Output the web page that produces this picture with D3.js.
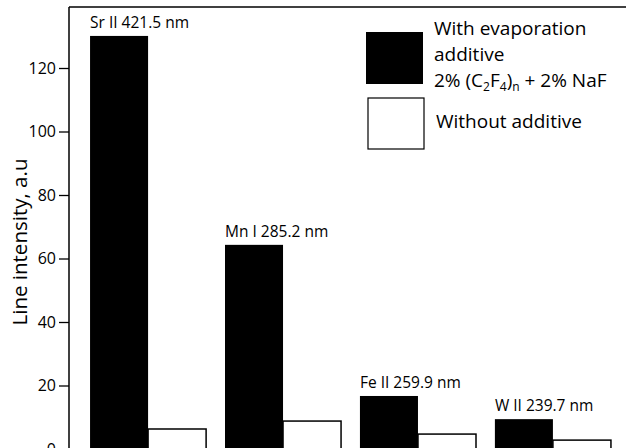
<!DOCTYPE html>
<html>
<head>
<meta charset="utf-8">
<script src="https://cdn.jsdelivr.net/npm/d3@7"></script>
<style>
  body { margin: 0; background: #fff; }
  svg { display: block; font-family: "Open Sans", Lato, sans-serif; }
</style>
</head>
<body>
<div id="d3"></div>
<script>
const lines = ["Sr II 421.5 nm", "Mn I 285.2 nm", "Fe II 259.9 nm", "W II 239.7 nm"];
const withAdditive = [130.1, 64.3, 16.7, 9.4];
const withoutAdditive = [6.3, 8.8, 4.7, 2.8];
const yTicks = [0, 20, 40, 60, 80, 100, 120];

const width = 626;
const height = 448;
const margin = { top: 7, left: 69, right: 0, bottom: 0 };

const svg = d3
  .select("#d3")
  .append("svg")
  .attr("width", width)
  .attr("height", height);

const x = d3.scaleBand().domain(lines).range([69, 632]).paddingInner(0.14).paddingOuter(0.156);
const xSub = d3.scaleBand().domain(["with", "without"]).range([0, x.bandwidth()]);
const y = d3.scaleLinear().domain([0, 120]).range([449, 68]);

// frame: left axis, top line, baseline
svg
  .append("g")
  .attr("transform", `translate(${margin.left},0)`)
  .call(d3.axisLeft(y).tickValues(yTicks).tickSize(10).tickPadding(3))
  .call((g) => g.select(".domain").remove())
  .call((g) => g.selectAll("text").style("font-size", "16px").style("font-family", "'Open Sans', sans-serif").attr("fill", "#000"))
  .call((g) => g.selectAll("line").attr("stroke", "#000").attr("stroke-width", 1.3));

svg.append("line").attr("x1", margin.left).attr("x2", margin.left).attr("y1", margin.top).attr("y2", y(0))
  .attr("stroke", "#000").attr("stroke-width", 1.5);
svg.append("line").attr("x1", margin.left).attr("x2", width).attr("y1", margin.top).attr("y2", margin.top)
  .attr("stroke", "#000").attr("stroke-width", 1.5);

svg
  .append("text")
  .attr("transform", `translate(27, 242) rotate(-90)`)
  .attr("text-anchor", "middle")
  .style("font-size", "20.5px")
  .text("Line intensity, a.u");

const groups = svg
  .selectAll("g.grp")
  .data(lines)
  .enter()
  .append("g")
  .attr("class", "grp")
  .attr("transform", (d) => `translate(${x(d)},0)`);

groups
  .append("rect")
  .attr("x", xSub("with"))
  .attr("width", xSub.bandwidth())
  .attr("y", (d, i) => y(withAdditive[i]))
  .attr("height", (d, i) => y(0) - y(withAdditive[i]))
  .attr("fill", "#000");

groups
  .append("rect")
  .attr("x", xSub("without"))
  .attr("width", xSub.bandwidth())
  .attr("y", (d, i) => y(withoutAdditive[i]))
  .attr("height", (d, i) => y(0) - y(withoutAdditive[i]))
  .attr("fill", "#fff")
  .attr("stroke", "#000")
  .attr("stroke-width", 1.5);

groups
  .append("text")
  .attr("x", 0)
  .attr("y", (d, i) => y(withAdditive[i]) - 8)
  .style("font-size", "15.5px")
  .text((d) => d);

svg.append("line").attr("x1", margin.left).attr("x2", width).attr("y1", y(0)).attr("y2", y(0))
  .attr("stroke", "#000").attr("stroke-width", 1.5);

// legend
const legend = svg.append("g");
legend.append("rect").attr("x", 366).attr("y", 32).attr("width", 57).attr("height", 52).attr("fill", "#000");
legend.append("rect").attr("x", 368).attr("y", 98).attr("width", 56).attr("height", 51)
  .attr("fill", "#fff").attr("stroke", "#000").attr("stroke-width", 1.2);

legend.append("text").attr("x", 434).attr("y", 35).style("font-size", "19px").text("With evaporation");
legend.append("text").attr("x", 434).attr("y", 61).style("font-size", "19px").text("additive");
const formula = legend.append("text").attr("x", 434).attr("y", 87).style("font-size", "19px");
formula.append("tspan").text("2% (C");
formula.append("tspan").attr("dy", 4).style("font-size", "12px").text("2");
formula.append("tspan").attr("dy", -4).text("F");
formula.append("tspan").attr("dy", 4).style("font-size", "12px").text("4");
formula.append("tspan").attr("dy", -4).text(")");
formula.append("tspan").attr("dy", 4).style("font-size", "12px").text("n");
formula.append("tspan").attr("dy", -4).text(" + 2% NaF");
legend.append("text").attr("x", 436).attr("y", 128).style("font-size", "19px").text("Without additive");
</script>
</body>
</html>
